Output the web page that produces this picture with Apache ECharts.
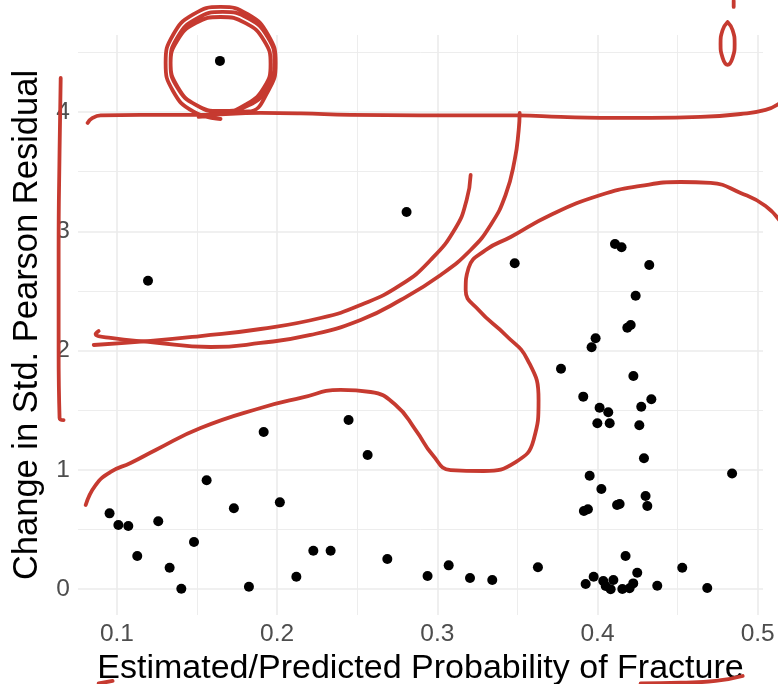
<!DOCTYPE html>
<html>
<head>
<meta charset="utf-8">
<script src="https://cdn.jsdelivr.net/npm/echarts@6/dist/echarts.min.js"></script>
<style>
html, body { margin: 0; padding: 0; background: #fff; }
#main { width: 778px; height: 684px; }
</style>
</head>
<body>
<div id="main"></div>
<script>
// scatter values
var probFracture = [
    0.1643, 0.1194, 0.2808, 0.3483, 0.4109, 0.4150, 0.4323, 0.4238, 0.4207, 0.4186,
    0.3988, 0.3963, 0.3772, 0.4224, 0.3911, 0.4336, 0.4013, 0.4067, 0.4273, 0.3999,
    0.4076, 0.4261, 0.2446, 0.1916, 0.2565, 0.4290, 0.4840, 0.3951, 0.4024, 0.1560,
    0.2017, 0.1730, 0.4300, 0.4311, 0.4122, 0.4138, 0.3915, 0.3940, 0.0954, 0.1009,
    0.1071, 0.1258, 0.1481, 0.1127, 0.1329, 0.1402, 0.1824, 0.2120, 0.2226, 0.2334,
    0.2688, 0.2939, 0.3071, 0.3204, 0.3343, 0.3628, 0.4175, 0.4248, 0.3976, 0.3926,
    0.4036, 0.4099, 0.4051, 0.4082, 0.4155, 0.4200, 0.4223, 0.4373, 0.4529, 0.4685
];
var residChange = [
    4.428, 2.586, 3.162, 2.732, 2.894, 2.866, 2.718, 2.460, 2.215, 2.192,
    2.103, 2.028, 1.848, 1.787, 1.614, 1.592, 1.521, 1.483, 1.530, 1.391,
    1.391, 1.374, 1.418, 1.318, 1.125, 1.097, 0.970, 0.951, 0.840, 0.913,
    0.728, 0.678, 0.781, 0.697, 0.706, 0.714, 0.655, 0.670, 0.636, 0.538,
    0.530, 0.569, 0.396, 0.278, 0.180, 0.004, 0.021, 0.105, 0.323, 0.323,
    0.253, 0.111, 0.200, 0.094, 0.077, 0.184, 0.278, 0.138, 0.105, 0.044,
    0.069, 0.077, 0.027, 0.000, 0.002, 0.008, 0.049, 0.029, 0.180, 0.010
];

var xMajor = [0.1, 0.2, 0.3, 0.4, 0.5];
var xMinor = [0.15, 0.25, 0.35, 0.45];
var yMajor = [0, 1, 2, 3, 4];
var yMinor = [0.5, 1.5, 2.5, 3.5, 4.5];

// red pen marks drawn over the plot (data units)
var penCircle = [
    [0.1647, 3.941], [0.1476, 4.004], [0.1350, 4.176], [0.1304, 4.411], [0.1350, 4.645],
    [0.1476, 4.817], [0.1647, 4.880], [0.1819, 4.817], [0.1944, 4.645], [0.1991, 4.411],
    [0.1944, 4.176], [0.1819, 4.004],
    [0.1660, 4.000], [0.1497, 4.056], [0.1379, 4.210], [0.1335, 4.419], [0.1379, 4.629],
    [0.1497, 4.782], [0.1660, 4.838], [0.1822, 4.782], [0.1941, 4.629], [0.1984, 4.419],
    [0.1941, 4.210], [0.1822, 4.056],
    [0.1647, 4.008], [0.1491, 4.061], [0.1377, 4.205], [0.1335, 4.402], [0.1377, 4.599],
    [0.1491, 4.744], [0.1647, 4.796], [0.1803, 4.744], [0.1918, 4.599], [0.1959, 4.402],
    [0.1918, 4.205], [0.1803, 4.061],
    [0.1647, 3.983], [0.1510, 3.958]
];
var penLine = [
    [0.0817, 3.908], [0.0848, 3.950], [0.0898, 3.971], [0.1148, 3.975], [0.1522, 3.975],
    [0.1897, 3.992], [0.2147, 3.988], [0.2459, 3.975], [0.2896, 3.971], [0.3501, 3.971],
    [0.3770, 3.958], [0.4019, 3.950], [0.4331, 3.950], [0.4644, 3.958], [0.4893, 3.983],
    [0.5049, 4.017], [0.5130, 4.067]
];
var penHook = [
    [0.0886, 2.164], [0.0867, 2.139], [0.0961, 2.106], [0.1210, 2.072], [0.1585, 2.030],
    [0.1897, 2.064], [0.2209, 2.131], [0.2521, 2.257], [0.2771, 2.424], [0.3021, 2.634],
    [0.3208, 2.843], [0.3333, 3.053], [0.3426, 3.304], [0.3483, 3.598], [0.3508, 3.849],
    [0.3514, 3.992]
];
var penSweep = [
    [0.0855, 2.047], [0.1210, 2.081], [0.1522, 2.122], [0.1897, 2.181], [0.2271, 2.273],
    [0.2521, 2.382], [0.2771, 2.550], [0.2958, 2.759], [0.3114, 3.028], [0.3183, 3.262],
    [0.3208, 3.472]
];
var penLoop = [
    [0.0805, 0.706], [0.0867, 0.873], [0.0961, 0.983], [0.1085, 1.058], [0.1242, 1.167],
    [0.1522, 1.351], [0.1897, 1.519], [0.2147, 1.603], [0.2396, 1.670], [0.2584, 1.653],
    [0.2740, 1.544], [0.2865, 1.334], [0.2971, 1.125], [0.3083, 0.999], [0.3289, 0.991],
    [0.3489, 1.066], [0.3601, 1.251], [0.3632, 1.586], [0.3564, 1.921], [0.3426, 2.131],
    [0.3258, 2.340], [0.3177, 2.508], [0.3195, 2.692], [0.3302, 2.843], [0.3458, 2.952],
    [0.3707, 3.137], [0.4019, 3.304], [0.4269, 3.380], [0.4519, 3.413], [0.4706, 3.405],
    [0.4893, 3.321], [0.5049, 3.212], [0.5143, 3.078]
];
var penBracket = [
    [0.0649, 4.285], [0.0642, 3.682], [0.0636, 2.843], [0.0636, 2.005], [0.0642, 1.435],
    [0.0667, 1.418]
];
var penOval = [
    [0.4812, 4.754], [0.4843, 4.687], [0.4856, 4.570], [0.4843, 4.453], [0.4812, 4.394],
    [0.4781, 4.453], [0.4768, 4.570], [0.4781, 4.687], [0.4812, 4.754]
];
var penTick = [[0.4850, 4.930], [0.4850, 4.880]];
var penUnderline = [[0.4269, -0.790], [0.4519, -0.784], [0.4737, -0.769], [0.4906, -0.727]];
var penMark = [[0.0886, -0.790], [0.0973, -0.769]];

var myChart;
var penColor = '#C63A30';
var gridColor = '#EBEBEB';
var fontName = 'Liberation Sans, Arial, sans-serif';

// panel layout (px) and value ranges
var chartW = 778, chartH = 684;
var padLeft = 78, padRight = 15, padTop = 35, padBottom = 69;
var xMin = 0.0757, xMax = 0.5033;
var yMin = -0.216, yMax = 4.645;

function penSeries(points, smoothness) {
    return {
        type: 'line',
        xAxisIndex: 2,
        yAxisIndex: 2,
        data: points,
        smooth: smoothness || 0.5,
        showSymbol: false,
        silent: true,
        z: 5,
        lineStyle: { color: penColor, width: 3.8, cap: 'round', join: 'round' }
    };
}

function initChart() {
    myChart = echarts.init(document.getElementById('main'), null, { renderer: 'canvas' });

    var points = probFracture.map(function (x, i) { return [x, residChange[i]]; });

    // the pen layer covers the whole canvas with the same scale as the panel
    var xPerPx = (xMax - xMin) / (chartW - padLeft - padRight);
    var yPerPx = (yMax - yMin) / (chartH - padTop - padBottom);
    var penXMin = xMin - padLeft * xPerPx, penXMax = xMax + padRight * xPerPx;
    var penYMin = yMin - padBottom * yPerPx, penYMax = yMax + padTop * yPerPx;

    var option = {
        animation: false,
        backgroundColor: '#fff',
        grid: [
            { left: padLeft, right: padRight, top: padTop, bottom: padBottom, outerBoundsMode: 'none', containLabel: false },
            { left: 0, right: 0, top: 0, bottom: 0, outerBoundsMode: 'none', containLabel: false }
        ],
        xAxis: [
            {
                type: 'value',
                min: xMin,
                max: xMax,
                name: 'Estimated/Predicted Probability of Fracture',
                nameLocation: 'middle',
                nameGap: 36,
                nameTextStyle: { fontSize: 34, color: '#000', fontFamily: fontName },
                axisLine: { show: false },
                axisTick: { show: false, customValues: xMajor },
                axisLabel: {
                    customValues: xMajor,
                    fontSize: 24.5,
                    color: '#4D4D4D',
                    fontFamily: fontName,
                    margin: 7,
                    formatter: function (v) { return v.toFixed(1); }
                },
                splitLine: { show: true, lineStyle: { color: gridColor, width: 1.6 } }
            },
            {
                type: 'value',
                min: xMin,
                max: xMax,
                position: 'bottom',
                axisLine: { show: false },
                axisLabel: { show: false },
                axisTick: { show: false, customValues: xMinor },
                splitLine: { show: true, lineStyle: { color: gridColor, width: 0.9 } }
            },
            {
                type: 'value',
                gridIndex: 1,
                min: penXMin,
                max: penXMax,
                show: false
            }
        ],
        yAxis: [
            {
                type: 'value',
                min: yMin,
                max: yMax,
                name: 'Change in Std. Pearson Residual',
                nameLocation: 'middle',
                nameGap: 31,
                nameRotate: 90,
                nameTextStyle: { fontSize: 34.5, color: '#000', fontFamily: fontName },
                axisLine: { show: false },
                axisTick: { show: false, customValues: yMajor },
                axisLabel: {
                    customValues: yMajor,
                    fontSize: 24.5,
                    color: '#4D4D4D',
                    fontFamily: fontName,
                    margin: 8
                },
                splitLine: { show: true, lineStyle: { color: gridColor, width: 1.6 } }
            },
            {
                type: 'value',
                min: yMin,
                max: yMax,
                position: 'left',
                axisLine: { show: false },
                axisLabel: { show: false },
                axisTick: { show: false, customValues: yMinor },
                splitLine: { show: true, lineStyle: { color: gridColor, width: 0.9 } }
            },
            {
                type: 'value',
                gridIndex: 1,
                min: penYMin,
                max: penYMax,
                show: false
            }
        ],
        series: [
            {
                type: 'scatter',
                data: points,
                symbolSize: 10,
                itemStyle: { color: '#000', opacity: 1 },
                z: 3
            },
            penSeries(penCircle, 0.5),
            penSeries(penLine),
            penSeries(penHook),
            penSeries(penSweep),
            penSeries(penLoop),
            penSeries(penBracket),
            penSeries(penOval),
            penSeries(penTick),
            penSeries(penUnderline),
            penSeries(penMark)
        ]
    };

    myChart.setOption(option, true);
}

initChart();
</script>
</body>
</html>
